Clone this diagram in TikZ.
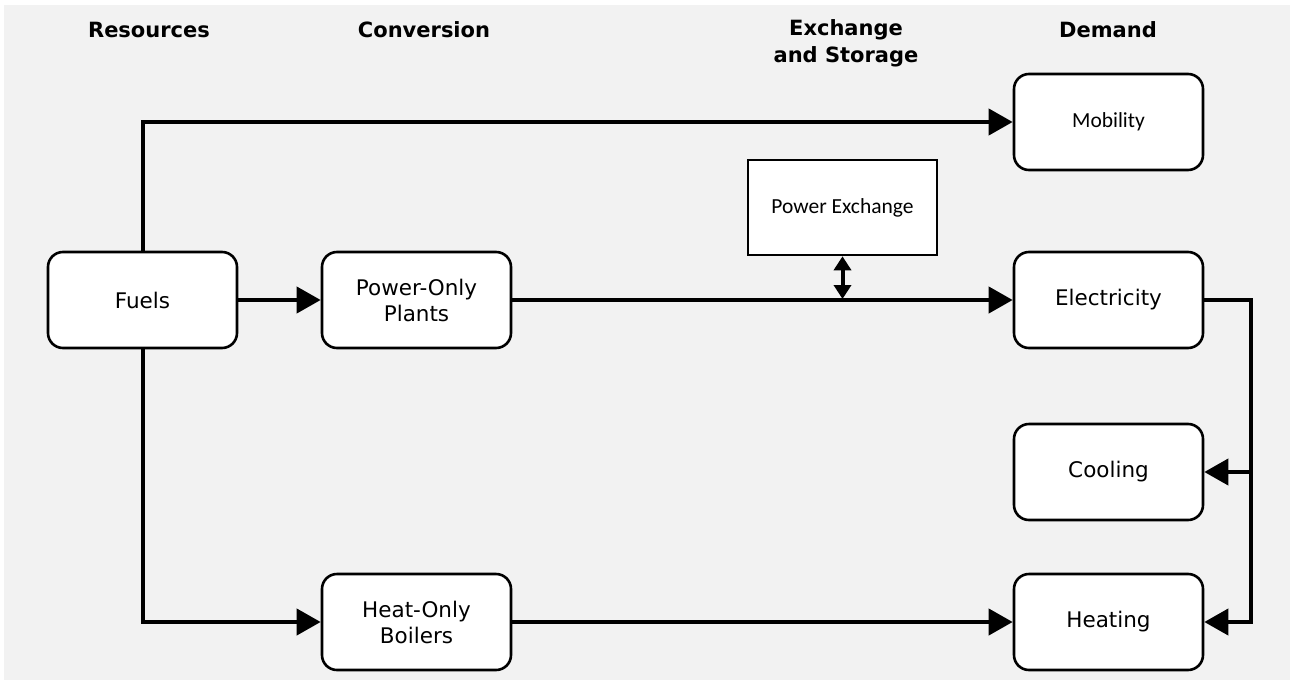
\documentclass[tikz,border=0pt]{standalone}
\usepackage{fontspec}
\setmainfont{DejaVu Sans}
\newfontfamily\calib{Carlito}
\usetikzlibrary{arrows.meta}
\definecolor{bggray}{HTML}{F2F2F2}
\begin{document}
\begin{tikzpicture}[x=1pt,y=-1pt,
  box/.style={draw=black, fill=white, line width=2.6pt, rounded corners=15pt,
    minimum width=189pt, minimum height=96pt, inner sep=0pt, align=center,
    font=\fontsize{21.5}{26}\selectfont},
  sqbox/.style={box, rounded corners=0pt, minimum height=95pt},
  calbox/.style={box, font=\calib\fontsize{21.5}{26}\selectfont},
  hdr/.style={font=\fontsize{21}{27}\selectfont\bfseries, align=center, inner sep=0pt},
  conn/.style={line width=4pt, -{Triangle[length=24pt,width=26pt]}},
  dbl/.style={line width=4pt, {Triangle[length=14pt,width=17pt]}-{Triangle[length=14pt,width=17pt]}}
]
\useasboundingbox (0,0) rectangle (1290,680);
\fill[white] (0,0) rectangle (1290,680);
\fill[bggray] (4,5) rectangle (1290,680);

% headers
\node[hdr] (hres) at (149,30) {Resources};
\node[hdr] (hcon) at (424,30) {Conversion};
\node[hdr] (hexs) at (846,43) {Exchange\\and Storage};
\node[hdr] (hdem) at (1108,30) {Demand};

% boxes
\node[box] (fuels) at (142.5,300) {Fuels};
\node[box] (pop) at (416.5,300) {Power-Only\\Plants};
\node[box] (hob) at (416.5,622) {Heat-Only\\Boilers};
\node[sqbox, font=\calib\fontsize{21.5}{26}\selectfont] (px) at (842.5,207.5) {Power Exchange};
\node[calbox] (mob) at (1108.5,122) {Mobility};
\node[box] (elec) at (1108.5,300) {Electricity};
\node[box] (cool) at (1108.5,472) {Cooling};
\node[box] (heat) at (1108.5,622) {Heating};

% junction coordinates
\coordinate (busE) at (1251,300);
\coordinate (busC) at (1251,472);
\coordinate (busH) at (1251,622);
\coordinate (pxj) at (842.5,299);

% connectors
\draw[conn] (fuels.east) -- (pop.west);
\draw[conn] (fuels.north) |- (mob.west);
\draw[conn] (fuels.south) |- (hob.west);
\draw[conn] (pop.east) -- (elec.west);
\draw[conn] (hob.east) -- (heat.west);
\draw[conn] (elec.east) -- (busE) -- (busH) -- (heat.east);
\draw[conn] (busC) -- (cool.east);
\draw[dbl] (px.south) -- (pxj);
\end{tikzpicture}
\end{document}
